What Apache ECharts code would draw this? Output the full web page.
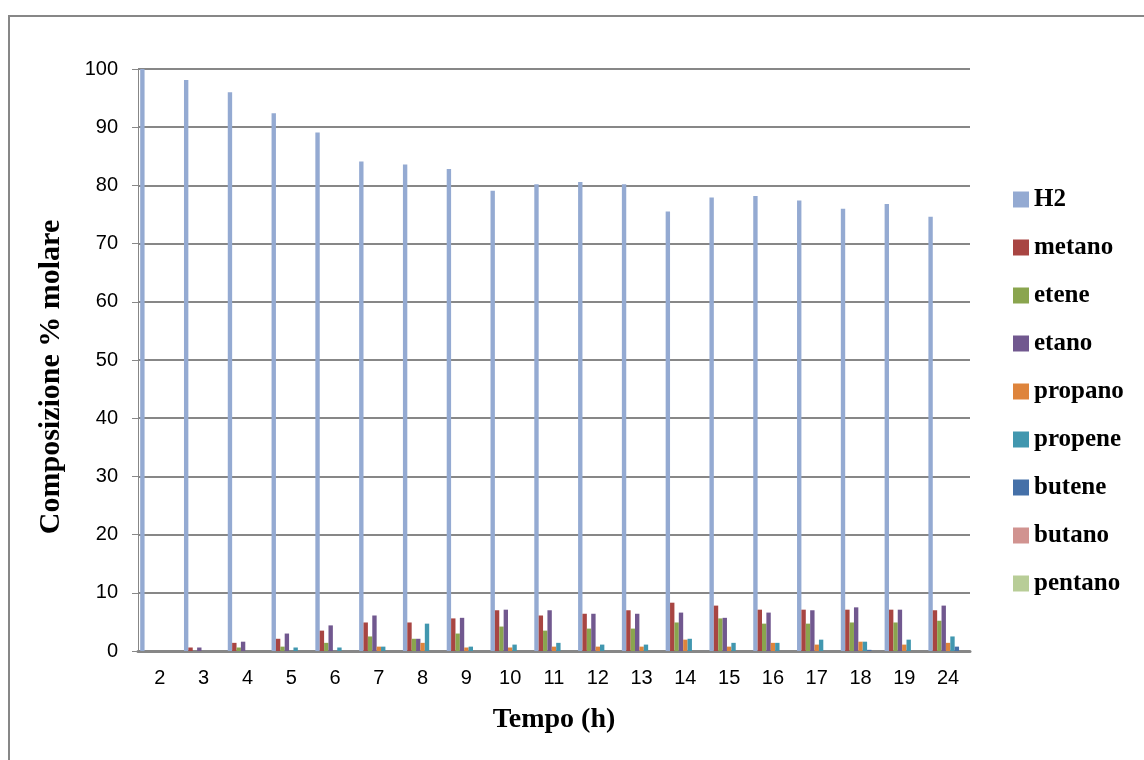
<!DOCTYPE html>
<html>
<head>
<meta charset="utf-8">
<script src="https://cdn.jsdelivr.net/npm/echarts@6/dist/echarts.min.js"></script>
<style>
html,body{margin:0;padding:0;background:#fff;overflow:hidden;}
#chart{width:1144px;height:760px;}
</style>
</head>
<body>
<div id="chart"></div>
<script>
const categories = ['2','3','4','5','6','7','8','9','10','11','12','13','14','15','16','17','18','19','24'];
const seriesNames = ['H2','metano','etene','etano','propano','propene','butene','butano','pentano'];
const H2      = [100, 98.1, 96.0, 92.4, 89.1, 84.1, 83.6, 82.8, 79.1, 80.2, 80.6, 80.2, 75.5, 77.9, 78.2, 77.4, 76.0, 76.8, 74.6];
const metano  = [0, 0.6, 1.4, 2.1, 3.5, 4.9, 4.9, 5.6, 7.0, 6.1, 6.4, 7.0, 8.3, 7.8, 7.1, 7.1, 7.1, 7.1, 7.0];
const etene   = [0, 0, 0.6, 0.75, 1.4, 2.5, 2.1, 3.0, 4.2, 3.5, 3.85, 3.85, 4.9, 5.6, 4.7, 4.7, 4.9, 4.9, 5.2];
const etano   = [0, 0.6, 1.6, 3.0, 4.4, 6.1, 2.1, 5.7, 7.1, 7.0, 6.4, 6.4, 6.6, 5.7, 6.6, 7.0, 7.5, 7.1, 7.8];
const propano = [0, 0, 0, 0, 0, 0.75, 1.4, 0.6, 0.6, 0.75, 0.75, 0.75, 1.95, 0.75, 1.4, 1.1, 1.6, 1.1, 1.4];
const propene = [0, 0, 0, 0.6, 0.6, 0.75, 4.7, 0.75, 1.1, 1.4, 1.1, 1.1, 2.1, 1.4, 1.4, 1.95, 1.6, 1.95, 2.5];
const butene  = [0, 0, 0, 0, 0, 0, 0, 0, 0, 0, 0, 0, 0, 0, 0, 0, 0.2, 0, 0.75];
const butano  = [0, 0, 0, 0, 0, 0, 0, 0, 0, 0, 0, 0, 0, 0, 0, 0, 0, 0, 0];
const pentano = [0, 0, 0, 0, 0, 0, 0, 0, 0, 0, 0, 0, 0, 0, 0, 0, 0, 0, 0];
const yTicks = [0,10,20,30,40,50,60,70,80,90,100];

const seriesData = [H2, metano, etene, etano, propano, propene, butene, butano, pentano];
const colors = ['#94AAD2','#A84542','#8AA54E','#71588F','#DE843C','#4197AF','#4570A8','#D19390','#B8CD97'];
const gray = '#878787';

const chart = echarts.init(document.getElementById('chart'), null, {renderer:'canvas'});
chart.setOption({
  animation:false,
  color: colors,
  graphic: [{
    type:'rect', silent:true,
    shape:{x:9, y:16, width:1300, height:900},
    style:{fill:null, stroke:gray, lineWidth:2}
  }],
  grid:{left:138, top:69, width:832, height:582, containLabel:false},
  legend:{
    orient:'vertical', left:1013, top:187, padding:0,
    itemWidth:16, itemHeight:16, itemGap:23,
    icon:'rect',
    data: seriesNames,
    textStyle:{fontFamily:'Liberation Serif', fontWeight:'bold', fontSize:25, color:'#000', lineHeight:24, padding:[0,0,0,0]}
  },
  xAxis:{
    type:'category', data:categories,
    name:'Tempo (h)', nameLocation:'middle', nameGap:55,
    nameTextStyle:{fontFamily:'Liberation Serif', fontWeight:'bold', fontSize:28, color:'#000'},
    axisLine:{lineStyle:{color:gray, width:3}},
    axisTick:{show:false},
    axisLabel:{fontFamily:'Liberation Sans', fontSize:20, color:'#000', margin:17, interval:0}
  },
  yAxis:{
    type:'value', min:0, max:100, interval:10,
    name:'Composizione % molare', nameLocation:'middle', nameGap:72, nameRotate:90,
    nameTextStyle:{fontFamily:'Liberation Serif', fontWeight:'bold', fontSize:30, color:'#000', padding:[0,34,0,0]},
    axisLine:{show:true, lineStyle:{color:gray, width:1}},
    axisTick:{show:true, length:6, lineStyle:{color:gray, width:1}},
    splitLine:{lineStyle:{color:gray, width:2}},
    axisLabel:{fontFamily:'Liberation Sans', fontSize:20, color:'#000', margin:20,
      formatter: v => yTicks.includes(v) ? String(v) : ''}
  },
  series: seriesNames.map((n,i)=>({
    name:n, type:'bar', data:seriesData[i],
    barGap:'0%', barCategoryGap:'10%',
    itemStyle:{color:colors[i]}
  }))
});
</script>
</body>
</html>
